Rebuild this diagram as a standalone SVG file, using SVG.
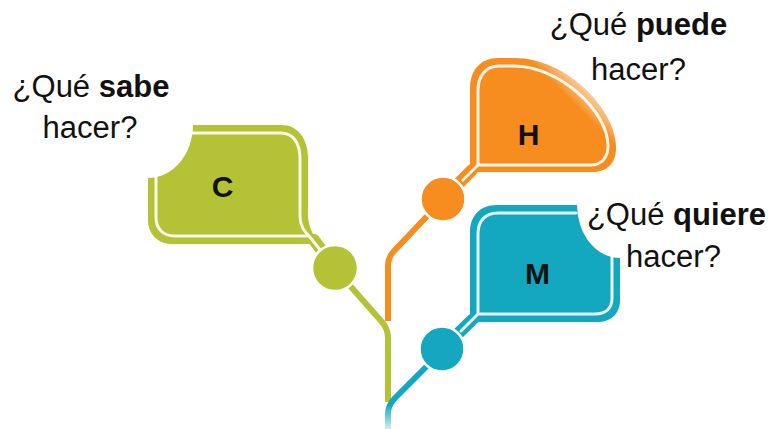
<svg xmlns="http://www.w3.org/2000/svg" width="774" height="429" viewBox="0 0 774 429">
  <style>
    .q { font-family: "Liberation Sans", Arial, sans-serif; font-size: 31px; fill: #111; text-anchor: middle; }
    .b { font-weight: bold; }
    .lbl { font-family: "Liberation Sans", Arial, sans-serif; font-size: 30px; font-weight: bold; fill: #111; text-anchor: middle; }
    .inner { fill: none; stroke: #fff; stroke-width: 3; stroke-linecap: round; stroke-linejoin: round; opacity: 0.9; }
    .neck { stroke-width: 12; stroke-linecap: round; }
    .dot { stroke: #fff; stroke-width: 2.5; }
    .con { fill: none; stroke-width: 6; stroke-linecap: butt; stroke-linejoin: round; }
    .green { fill: #b4c236; }
    .orange { fill: #f68d1e; }
    .teal { fill: #14a7c0; }
  </style>
  <defs>
    <linearGradient id="fadeH" gradientUnits="userSpaceOnUse" x1="522" y1="52" x2="546" y2="28">
      <stop offset="0" stop-color="#fff"/>
      <stop offset="1" stop-color="#000"/>
    </linearGradient>
    <mask id="maskH" maskUnits="userSpaceOnUse" x="0" y="0" width="774" height="429">
      <rect x="0" y="0" width="774" height="429" fill="url(#fadeH)"/>
    </mask>
    <linearGradient id="fadeTeal" gradientUnits="userSpaceOnUse" x1="0" y1="405" x2="0" y2="429">
      <stop offset="0" stop-color="#14a7c0" stop-opacity="1"/>
      <stop offset="1" stop-color="#14a7c0" stop-opacity="0.2"/>
    </linearGradient>
  </defs>
  <rect width="774" height="429" fill="#fff"/>

  <g id="connectors">
    <path class="con" stroke="#b4c236" d="M 345 280 L 382 322 Q 388 329 388 338 L 388 402"/>
    <path class="con" stroke="#f68d1e" d="M 432 211 L 394 251 Q 388 257 388 266 L 388 321"/>
    <path class="con" stroke="url(#fadeTeal)" d="M 431 362 L 395 398 Q 388 405 388 414 L 388 429"/>
  </g>

  <g id="node-C">
    <path class="green" d="M 193 125 L 282 125 C 297 125 308 138 308 158 L 308 214 C 308 226 313 236 320 244 L 172 244 C 158 244 148 234 148 220 L 148 178 A 45 53 0 0 0 193 125 Z"/>
    <line class="neck" stroke="#b4c236" x1="314" y1="240" x2="335" y2="268"/>
    <path class="inner" d="M 193 133 L 281 133 C 293 133 300 143 300 159 L 300 216 C 300 226 304 231 309 236 M 156 177 L 156 217 C 156 229 163 236 175 236 L 309 236 L 321 251"/>
    <circle class="dot green" cx="335" cy="268" r="23"/>
    <text class="lbl" x="222.5" y="197">C</text>
  </g>

  <g id="node-H">
    <g mask="url(#maskH)">
      <path class="orange" d="M 470 172 L 470 88 C 470 70 481 58 498 58 L 515 58 C 565 58 616 108 616 148 C 616 163 607 172 593 172 Z"/>
      <path class="inner" d="M 478 165 L 478 90 C 478 76 486 66 499 66 L 514 66 C 558 66 608 110 608 146 C 608 158 601 165 591 165 L 478 165 L 461 181"/>
    </g>
    <line class="neck" stroke="#f68d1e" x1="472" y1="170" x2="443" y2="199"/>
    <line stroke="#fff" stroke-width="2.5" x1="478" y1="165" x2="462" y2="181"/>
    <circle class="dot orange" cx="443" cy="199" r="22.5"/>
    <text class="lbl" x="528.5" y="145">H</text>
  </g>

  <g id="node-M">
    <path class="teal" d="M 468 325 C 470 320 470 316 470 308 L 470 232 C 470 216 480 205 497 205 L 577 205 A 43 53 0 0 0 620 258 L 620 300 C 620 314 611 322 597 322 L 480 322 Z"/>
    <line class="neck" stroke="#14a7c0" x1="472" y1="320" x2="442" y2="349"/>
    <path class="inner" d="M 576 213 L 498 213 C 485 213 478 221 478 234 L 478 314 L 461 331 M 478 314 L 595 314 C 605 314 612 309 612 298 L 612 257"/>
    <circle class="dot teal" cx="442" cy="349" r="22.5"/>
    <text class="lbl" x="537.5" y="284">M</text>
  </g>

  <g id="q-sabe">
    <text class="q" x="91" y="97">¿Qué <tspan class="b">sabe</tspan></text>
    <text class="q" x="90" y="138">hacer?</text>
  </g>
  <g id="q-puede">
    <text class="q" x="638.5" y="35">¿Qué <tspan class="b">puede</tspan></text>
    <text class="q" x="638.5" y="80">hacer?</text>
  </g>
  <g id="q-quiere">
    <text class="q" x="676.5" y="225">¿Qué <tspan class="b">quiere</tspan></text>
    <text class="q" x="673.5" y="267">hacer?</text>
  </g>
</svg>
